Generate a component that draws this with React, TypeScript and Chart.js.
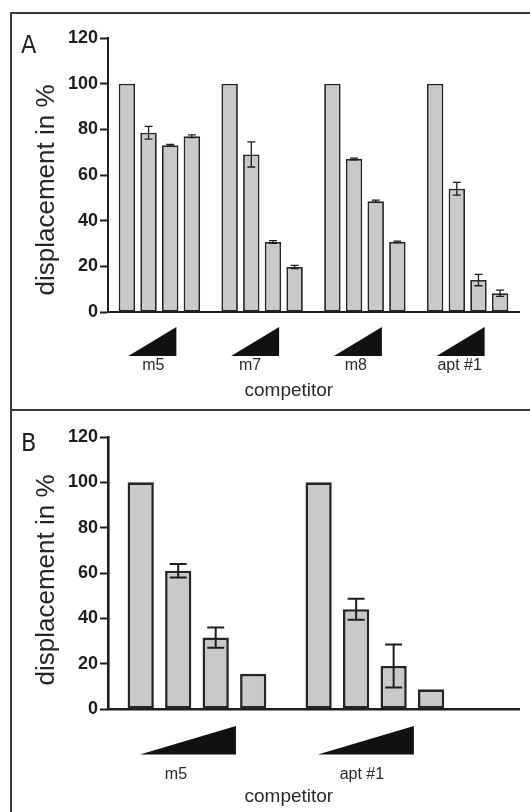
import React, { useEffect, useRef } from 'react';
import { Chart, registerables } from 'chart.js';

Chart.register(...registerables);

// ---------- data ----------
const groupsA = ['m5', 'm7', 'm8', 'apt #1'];
const doseA1 = [100, 100, 100, 100];
const doseA2 = [78.5, 69, 67, 54];
const doseA3 = [73, 30.7, 48.5, 14];
const doseA4 = [77, 19.7, 30.7, 8.2];
const errA1 = [0, 0, 0, 0];
const errA2 = [2.8, 5.5, 0.4, 2.8];
const errA3 = [0.4, 0.6, 0.5, 2.5];
const errA4 = [0.6, 0.7, 0.3, 1.4];

const groupsB = ['m5', 'apt #1'];
const doseB1 = [100, 100];
const doseB2 = [61, 44];
const doseB3 = [31.5, 19];
const doseB4 = [15.5, 8.7];
const errB1 = [0, 0];
const errB2 = [3, 4.6];
const errB3 = [4.5, 9.5];
const errB4 = [0, 0];

const yTicks = [0, 20, 40, 60, 80, 100, 120];
const yTitle = 'displacement in %';
const xTitle = 'competitor';
const panelLabels = ['A', 'B'];

// ---------- style ----------
const FONT = "'Liberation Sans', Arial, Helvetica, sans-serif";
const INK = '#1e1e1e';
const BAR_FILL = '#c9c9c9';
const BAR_EDGE = '#262626';

type PanelStyle = {
  xValue: (scale: any, i: number) => number;
  groups: string[];
  cap: number;
  errWidth: number;
  wedgeLeft: number;
  wedgeRight: number;
  wedgeTop: number;
  wedgeBottom: number;
  labelShift: number[];
  labelY: number;
  titleY: number;
  yTitleShift: number;
};

function makeDecor(st: PanelStyle) {
  return {
    id: 'decor',
    afterDatasetsDraw(chart: any) {
      const ctx = chart.ctx as CanvasRenderingContext2D;
      const ys = chart.scales.y;
      chart.data.datasets.forEach((ds: any, di: number) => {
        const meta = chart.getDatasetMeta(di);
        const errs: number[] = ds.errors || [];
        meta.data.forEach((el: any, i: number) => {
          const e = errs[i];
          if (!e) return;
          const raw = ds.data[i];
          const v = typeof raw === 'number' ? raw : raw.y;
          const yt = ys.getPixelForValue(v + e);
          const yb = ys.getPixelForValue(v - e);
          ctx.save();
          ctx.strokeStyle = INK;
          ctx.lineWidth = st.errWidth;
          ctx.beginPath();
          ctx.moveTo(el.x, yt);
          ctx.lineTo(el.x, yb);
          ctx.moveTo(el.x - st.cap, yt);
          ctx.lineTo(el.x + st.cap, yt);
          ctx.moveTo(el.x - st.cap, yb);
          ctx.lineTo(el.x + st.cap, yb);
          ctx.stroke();
          ctx.restore();
        });
      });
    },
    afterDraw(chart: any) {
      const ctx = chart.ctx as CanvasRenderingContext2D;
      const xs = chart.scales.x;
      const area = chart.chartArea;
      ctx.save();
      st.groups.forEach((g, i) => {
        const cx = xs.getPixelForValue(st.xValue(xs, i));
        const x0 = cx + st.wedgeLeft;
        const x1 = cx + st.wedgeRight;
        const yTop = area.bottom + st.wedgeTop;
        const yBot = area.bottom + st.wedgeBottom;
        ctx.fillStyle = '#111';
        ctx.beginPath();
        ctx.moveTo(x0, yBot);
        ctx.lineTo(x1, yBot);
        ctx.lineTo(x1, yTop);
        ctx.closePath();
        ctx.fill();
        ctx.fillStyle = '#2a2a2a';
        ctx.font = `16px ${FONT}`;
        ctx.textAlign = 'center';
        ctx.textBaseline = 'middle';
        ctx.fillText(g, cx + st.labelShift[i], area.bottom + st.labelY);
      });
      // x title
      ctx.fillStyle = '#2a2a2a';
      ctx.font = `19px ${FONT}`;
      ctx.textAlign = 'center';
      ctx.textBaseline = 'middle';
      ctx.fillText(xTitle, area.left + area.width * 0.44, area.bottom + st.titleY);
      // y title
      ctx.translate(47, (area.top + area.bottom) / 2 + st.yTitleShift);
      ctx.rotate(-Math.PI / 2);
      ctx.fillStyle = '#262626';
      ctx.font = `26px ${FONT}`;
      ctx.fillText(yTitle, 0, 0);
      ctx.restore();
    },
  };
}

function makeConfig(
  groups: string[],
  doses: number[][],
  errs: number[][],
  linearX: boolean,
  xMax: number,
  topPad: number,
  xHeight: number,
  edge: number,
  axisW: number,
  st: PanelStyle
): any {
  const datasets = doses.map((vals, d) => ({
    label: `dose ${d + 1}`,
    data: linearX ? vals.map((v, i) => ({ x: i + 0.5, y: v })) : vals,
    errors: errs[d],
    backgroundColor: BAR_FILL,
    borderColor: BAR_EDGE,
    borderWidth: edge,
    borderSkipped: false,
    categoryPercentage: 0.843,
    barPercentage: linearX ? 0.7 : 0.76,
  }));
  const xScale: any = linearX
    ? {
        type: 'linear',
        min: 0,
        max: xMax,
        offset: false,
        afterBuildTicks: (s: any) => {
          s.ticks = groups.map((_, i) => ({ value: i + 0.5 }));
        },
      }
    : { type: 'category', offset: true };
  return {
    type: 'bar',
    data: { labels: linearX ? undefined : groups, datasets },
    options: {
      responsive: false,
      animation: false,
      devicePixelRatio: 1,
      layout: { padding: { top: topPad, right: 11, left: 0, bottom: 0 } },
      plugins: { legend: { display: false }, tooltip: { enabled: false }, title: { display: false } },
      scales: {
        x: {
          ...xScale,
          grid: { display: false, offset: false },
          ticks: { display: false },
          border: { display: true, color: INK, width: axisW },
          afterFit: (s: any) => {
            s.height = xHeight;
          },
        },
        y: {
          min: 0,
          max: 120,
          afterBuildTicks: (s: any) => {
            s.ticks = yTicks.map((v) => ({ value: v }));
          },
          grid: {
            display: true,
            drawOnChartArea: false,
            drawTicks: true,
            tickLength: 8,
            tickWidth: 2,
            tickColor: INK,
          },
          border: { display: true, color: INK, width: axisW },
          ticks: {
            color: INK,
            padding: 2,
            font: { family: FONT, size: 18, weight: 'bold' },
          },
          afterFit: (s: any) => {
            s.width = 108;
          },
        },
      },
    },
    plugins: [makeDecor(st)],
  };
}

export default function App() {
  const refA = useRef<HTMLCanvasElement>(null);
  const refB = useRef<HTMLCanvasElement>(null);

  useEffect(() => {
    const cfgA = makeConfig(
      groupsA,
      [doseA1, doseA2, doseA3, doseA4],
      [errA1, errA2, errA3, errA4],
      false,
      0,
      38,
      98,
      1.8,
      2,
      {
        xValue: (_s, i) => i,
        groups: groupsA,
        cap: 4,
        errWidth: 1.3,
        wedgeLeft: -31,
        wedgeRight: 17,
        wedgeTop: 15,
        wedgeBottom: 44,
        labelShift: [-6, -12, -9, -8],
        labelY: 54,
        titleY: 79,
        yTitleShift: 15,
      }
    );
    const cfgB = makeConfig(
      groupsB,
      [doseB1, doseB2, doseB3, doseB4],
      [errB1, errB2, errB3, errB4],
      true,
      2.31,
      27,
      103,
      2.6,
      2.6,
      {
        xValue: (_s, i) => i + 0.5,
        groups: groupsB,
        cap: 8.5,
        errWidth: 2,
        wedgeLeft: -57,
        wedgeRight: 39,
        wedgeTop: 17,
        wedgeBottom: 45.5,
        labelShift: [-21, -13],
        labelY: 66,
        titleY: 88,
        yTitleShift: 7,
      }
    );
    const a = new Chart(refA.current!, cfgA);
    const b = new Chart(refB.current!, cfgB);
    return () => {
      a.destroy();
      b.destroy();
    };
  }, []);

  const labelStyle: React.CSSProperties = {
    position: 'absolute',
    left: 21,
    fontFamily: "'Liberation Sans Narrow', 'DejaVu Sans Condensed', 'Liberation Sans', sans-serif",
    fontSize: 25,
    lineHeight: '25px',
    color: '#222',
  };

  return (
    <div
      style={{
        position: 'absolute',
        left: 0,
        top: 0,
        width: 530,
        height: 812,
        background: '#ffffff',
        overflow: 'hidden',
      }}
    >
      <canvas ref={refA} width={530} height={410} style={{ position: 'absolute', left: 0, top: 0 }} />
      <canvas ref={refB} width={530} height={402} style={{ position: 'absolute', left: 0, top: 410 }} />
      <div style={{ position: 'absolute', left: 10, top: 12, width: 520, height: 2, background: '#3a3a3a' }} />
      <div style={{ position: 'absolute', left: 10, top: 409, width: 520, height: 2, background: '#3a3a3a' }} />
      <div style={{ position: 'absolute', left: 10, top: 12, width: 2, height: 800, background: '#3a3a3a' }} />
      <div style={{ ...labelStyle, top: 32 }}>{panelLabels[0]}</div>
      <div style={{ ...labelStyle, top: 430 }}>{panelLabels[1]}</div>
    </div>
  );
}
